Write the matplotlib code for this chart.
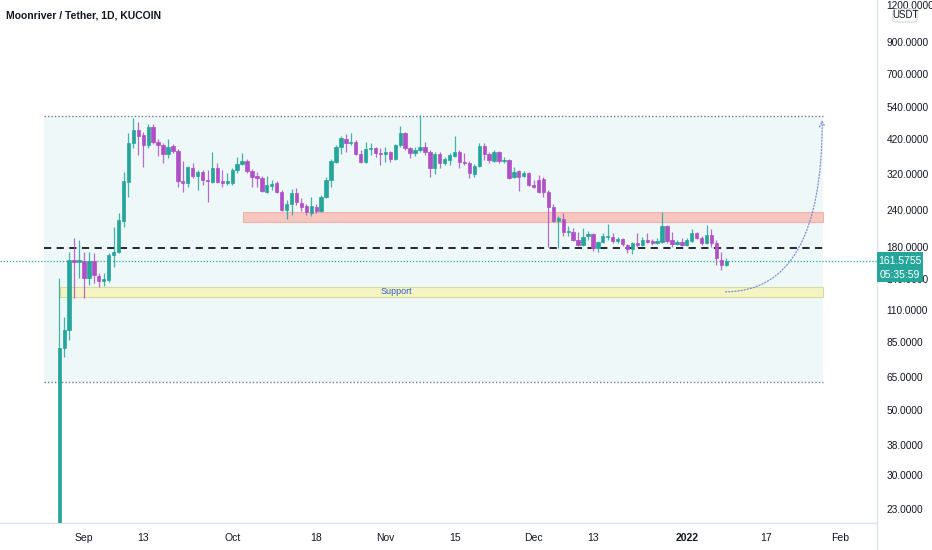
import numpy as np
import pandas as pd
import matplotlib
matplotlib.use("Agg")
import matplotlib.pyplot as plt
import matplotlib.dates as mdates
from matplotlib.patches import Rectangle, FancyBboxPatch
from matplotlib.lines import Line2D

plt.rcParams['font.family'] = ['Liberation Sans', 'DejaVu Sans']

# MOVR/USDT daily candles, KuCoin, 2021-08-27 .. 2022-01-09
FIRST_DAY = "2021-08-27"
opens = [
    12.0, 81.4, 93.7, 162.4, 159.9, 161.1, 141.0, 161.1, 143.3, 137.8,
    138.8, 168.9, 172.9, 220.6, 299.5, 406.8, 450.5, 433.2, 400.5, 461.2,
    410.0, 400.5, 373.2, 397.4, 382.1, 301.9, 297.2, 334.3, 314.0, 324.0,
    304.3, 299.5, 334.3, 301.9, 297.2, 297.2, 329.1, 345.0, 353.2, 326.5,
    314.0, 309.1, 276.9, 290.3, 297.2, 276.9, 240.4, 252.1, 274.8, 254.0,
    248.1, 234.9, 246.2, 238.6, 266.3, 304.3, 350.5, 394.3, 419.8, 406.8,
    410.0, 373.2, 350.5, 388.1, 391.2, 376.2, 373.2, 379.1, 358.8, 400.5,
    440.0, 391.2, 376.2, 385.1, 394.3, 379.1, 334.3, 373.2, 347.7, 356.0,
    367.3, 379.1, 350.5, 347.7, 318.9, 339.6, 397.4, 373.2, 353.2, 379.1,
    353.2, 356.0, 311.5, 326.5, 314.0, 321.5, 292.6, 304.3, 306.7, 276.9,
    246.2, 220.6, 224.1, 202.3, 202.3, 190.0, 182.7, 196.1, 199.2, 178.5,
    187.1, 194.5, 194.5, 188.5, 191.5, 182.7, 177.1, 185.6, 182.7, 190.0,
    188.5, 185.6, 187.1, 212.1, 190.0, 184.2, 187.1, 182.7, 188.5, 200.7,
    193.0, 185.6, 197.6, 185.6, 162.4, 156.1,
]
highs = [
    141.0, 103.8, 172.9, 193.0, 190.0, 172.9, 172.9, 171.6, 146.7, 146.7,
    171.6, 210.4, 234.9, 324.0, 440.0, 495.1, 479.7, 443.5, 472.3, 472.3,
    419.8, 406.8, 419.8, 403.7, 388.1, 353.2, 339.6, 347.7, 329.1, 329.1,
    329.1, 379.1, 347.7, 329.1, 321.5, 334.3, 364.5, 376.2, 358.8, 331.7,
    324.0, 314.0, 314.0, 304.3, 301.9, 281.3, 260.1, 283.5, 285.8, 264.2,
    252.1, 266.3, 252.1, 270.5, 311.5, 358.8, 400.5, 429.8, 436.6, 440.0,
    416.5, 385.1, 410.0, 406.8, 394.3, 391.2, 394.3, 382.1, 403.7, 464.9,
    443.5, 394.3, 394.3, 506.9, 410.0, 385.1, 379.1, 379.1, 364.5, 376.2,
    429.8, 385.1, 376.2, 353.2, 345.0, 406.8, 406.8, 379.1, 385.1, 382.1,
    364.5, 358.8, 337.0, 329.1, 326.5, 324.0, 304.3, 316.4, 311.5, 281.3,
    252.1, 229.4, 234.9, 212.1, 208.8, 202.3, 208.8, 203.9, 200.7, 188.5,
    200.7, 215.5, 200.7, 194.5, 193.0, 184.2, 187.1, 200.7, 194.5, 200.7,
    191.5, 193.0, 236.7, 213.7, 202.3, 190.0, 193.0, 193.0, 207.1, 202.3,
    196.1, 213.7, 207.1, 190.0, 172.9, 165.0,
]
lows = [
    11.0, 75.8, 86.7, 120.5, 141.0, 120.5, 133.5, 135.6, 131.4, 132.5,
    136.7, 153.7, 172.0, 210.4, 266.3, 391.2, 370.2, 337.0, 391.2, 403.7,
    367.3, 347.7, 361.6, 376.2, 288.0, 276.9, 288.0, 309.1, 281.3, 292.6,
    256.0, 297.2, 297.2, 288.0, 292.6, 292.6, 321.5, 342.3, 321.5, 288.0,
    288.0, 276.9, 274.8, 281.3, 274.8, 238.6, 224.1, 231.2, 250.1, 238.6,
    231.2, 229.4, 234.9, 236.7, 264.2, 288.0, 347.7, 373.2, 379.1, 400.5,
    370.2, 347.7, 347.7, 370.2, 364.5, 342.3, 350.5, 350.5, 356.0, 394.3,
    385.1, 361.6, 367.3, 379.1, 370.2, 311.5, 318.9, 334.3, 342.3, 342.3,
    364.5, 334.3, 342.3, 309.1, 311.5, 337.0, 356.0, 347.7, 350.5, 347.7,
    347.7, 306.7, 309.1, 279.1, 311.5, 290.3, 285.8, 274.8, 266.3, 179.9,
    218.9, 178.5, 196.1, 196.1, 188.5, 181.3, 181.3, 190.0, 174.3, 172.9,
    185.6, 190.0, 185.6, 185.6, 181.3, 171.6, 170.2, 179.9, 181.3, 185.6,
    182.7, 184.2, 185.6, 185.6, 179.9, 182.7, 181.3, 181.3, 187.1, 191.5,
    182.7, 184.2, 179.9, 156.1, 150.1, 154.9,
]
closes = [
    81.4, 93.7, 162.4, 159.9, 162.4, 141.0, 161.1, 144.4, 137.8, 139.9,
    168.9, 172.9, 222.3, 301.9, 406.8, 450.5, 429.8, 400.5, 461.2, 410.0,
    400.5, 373.2, 394.3, 382.1, 301.9, 297.2, 337.0, 314.0, 324.0, 304.3,
    301.9, 334.3, 299.5, 297.2, 301.9, 329.1, 345.0, 353.2, 326.5, 311.5,
    309.1, 279.1, 292.6, 294.9, 276.9, 240.4, 252.1, 274.8, 256.0, 246.2,
    236.7, 248.1, 238.6, 266.3, 304.3, 353.2, 394.3, 423.1, 406.8, 410.0,
    373.2, 350.5, 388.1, 391.2, 376.2, 373.2, 379.1, 358.8, 400.5, 440.0,
    391.2, 376.2, 385.1, 394.3, 379.1, 334.3, 373.2, 347.7, 358.8, 370.2,
    379.1, 350.5, 347.7, 321.5, 339.6, 397.4, 373.2, 356.0, 379.1, 353.2,
    356.0, 309.1, 324.0, 311.5, 321.5, 292.6, 288.0, 276.9, 276.9, 246.2,
    220.6, 225.8, 202.3, 203.9, 190.0, 182.7, 194.5, 199.2, 178.5, 187.1,
    196.1, 196.1, 188.5, 191.5, 184.2, 177.1, 185.6, 182.7, 190.0, 187.1,
    185.6, 188.5, 212.1, 188.5, 184.2, 187.1, 182.7, 190.0, 200.7, 193.0,
    185.6, 197.6, 185.6, 165.0, 156.1, 161.5755,
]
LAST_PRICE = "161.5755"
COUNTDOWN = "05:35:59"

# drawings on the chart
range_box = ("2021-08-23 22:00", "2022-01-28 14:00", 62.4, 503.0)
resistance_zone = ("2021-10-03 05:00", "2022-01-28 14:00", 219.0, 236.7)
support_zone = ("2021-08-27 03:00", "2022-01-28 14:00", 121.4, 131.4)
support_label = ("2021-11-03 05:00", 126.4, "Support")
mid_level = 178.5
arrow_from = ("2022-01-08 20:00", 126.4)
arrow_to = ("2022-01-28 10:00", 487.0)

price_ticks = [23, 30, 38, 50, 65, 85, 110, 140, 180, 240, 320, 420, 540, 700, 900, 1200]
date_ticks = ["2021-09-01", "2021-09-13", "2021-10-01", "2021-10-18", "2021-11-01",
              "2021-11-15", "2021-12-01", "2021-12-13", "2022-01-01", "2022-01-17",
              "2022-02-01"]
date_labels = ["Sep", "13", "Oct", "18", "Nov", "15", "Dec", "13", "2022", "17", "Feb"]

UP = "#26a69a"
DOWN = "#b04fc6"
TEXT = "#131722"
BORDER = "#e0e3eb"

W, H = 932, 550
fig = plt.figure(figsize=(W / 100, H / 100), dpi=100)
fig.patch.set_facecolor("white")
ax = fig.add_axes([0, 27 / H, 877 / W, 523 / H])

dates = pd.date_range(FIRST_DAY, periods=len(closes), freq="D")
xs = mdates.date2num(dates)
o = np.array(opens)
c = np.array(closes)
colors = [UP if cc >= oo else DOWN for oo, cc in zip(o, c)]

# range box and zones
d = lambda s: mdates.date2num(pd.Timestamp(s))
x0, x1, lo, hi = range_box
ax.add_patch(Rectangle((d(x0), lo), d(x1) - d(x0), hi - lo, facecolor="#eef8f9",
                       edgecolor="none", zorder=0))
for yv in (lo, hi):
    ax.plot([d(x0), d(x1)], [yv, yv], color="#787b86", lw=1, ls=(0, (1, 1.5)), zorder=1)

x0, x1, lo, hi = resistance_zone
ax.add_patch(Rectangle((d(x0), lo), d(x1) - d(x0), hi - lo, facecolor="#f6c7c1",
                       edgecolor="#eeb2aa", lw=0.8, zorder=1))
x0, x1, lo, hi = support_zone
ax.add_patch(Rectangle((d(x0), lo), d(x1) - d(x0), hi - lo, facecolor="#f4f5c2",
                       edgecolor="#d8dba0", lw=0.8, zorder=1))
ax.text(d(support_label[0]), support_label[1], support_label[2], color="#2f5bd0",
        fontsize=6.5, ha="center", va="center", zorder=2)

ax.plot([d(range_box[0]), d(range_box[1])], [mid_level, mid_level], color=TEXT,
        lw=1.3, ls=(0, (4, 3)), zorder=2)
ax.axhline(float(LAST_PRICE), color=UP, lw=0.9, ls=(0, (1, 1.5)), zorder=2)

# candles
ax.vlines(xs, lows, highs, colors=colors, lw=0.9, alpha=0.85, zorder=3)
ax.bar(xs, np.abs(c - o), bottom=np.minimum(o, c), width=0.68, color=colors,
       edgecolor=colors, lw=0.5, zorder=4)

ax.annotate("", xy=(d(arrow_to[0]), arrow_to[1]), xytext=(d(arrow_from[0]), arrow_from[1]),
            arrowprops=dict(arrowstyle="->", connectionstyle="angle3,angleA=0,angleB=90",
                            color="#7d8fd6", lw=0.9, ls=(0, (1, 1.5)), shrinkA=0, shrinkB=0),
            zorder=5)

ax.set_yscale("log")
ax.set_ylim(20.6, 1249)
ax.set_xlim(d("2021-09-01") - 17.0, d("2021-09-01") + 160.5)

ax.yaxis.tick_right()
ax.set_yticks(price_ticks)
ax.set_yticklabels([f"{v:.4f}" for v in price_ticks])
ax.yaxis.set_minor_locator(matplotlib.ticker.NullLocator())
ax.tick_params(axis="y", length=0, pad=7, labelsize=7.3, labelcolor=TEXT)
ax.set_xticks([d(t) for t in date_ticks])
ax.set_xticklabels(date_labels)
ax.tick_params(axis="x", length=0, pad=7, labelsize=7.5, labelcolor=TEXT)
for lbl in ax.get_xticklabels():
    if lbl.get_text() == "2022":
        lbl.set_fontweight("bold")

for side in ("top", "left", "right"):
    ax.spines[side].set_visible(False)
ax.spines["bottom"].set_color(BORDER)
ax.spines["bottom"].set_linewidth(1)
ax.set_facecolor("white")

# right price scale border
fig.add_artist(Line2D([877 / W, 877 / W], [0, 1], color=BORDER, lw=1))

# last price badge
fig.add_artist(Rectangle((877 / W, 1 - 282 / H), 46 / W, 30 / H, facecolor=UP,
                         edgecolor="none", transform=fig.transFigure, zorder=5))
fig.text(900 / W, 1 - 261 / H, LAST_PRICE, color="white", fontsize=7.5,
         ha="center", va="center", zorder=6)
fig.text(900 / W, 1 - 275 / H, COUNTDOWN, color="white", fontsize=7.5,
         ha="center", va="center", zorder=6)

# currency badge
fig.add_artist(FancyBboxPatch((893 / W, 1 - 22 / H), 24 / W, 13 / H,
                              boxstyle="round,pad=0,rounding_size=0.004",
                              facecolor="white", edgecolor="#d1d4dc", lw=0.8,
                              transform=fig.transFigure, zorder=5))
fig.text(905 / W, 1 - 15.5 / H, "USDT", color=TEXT, fontsize=7, ha="center",
         va="center", zorder=6)

fig.text(6 / W, 1 - 16 / H, "Moonriver / Tether, 1D, KUCOIN", color=TEXT,
         fontsize=7.5, fontweight="bold", ha="left", va="center")

fig.savefig("out.png", dpi=100)
